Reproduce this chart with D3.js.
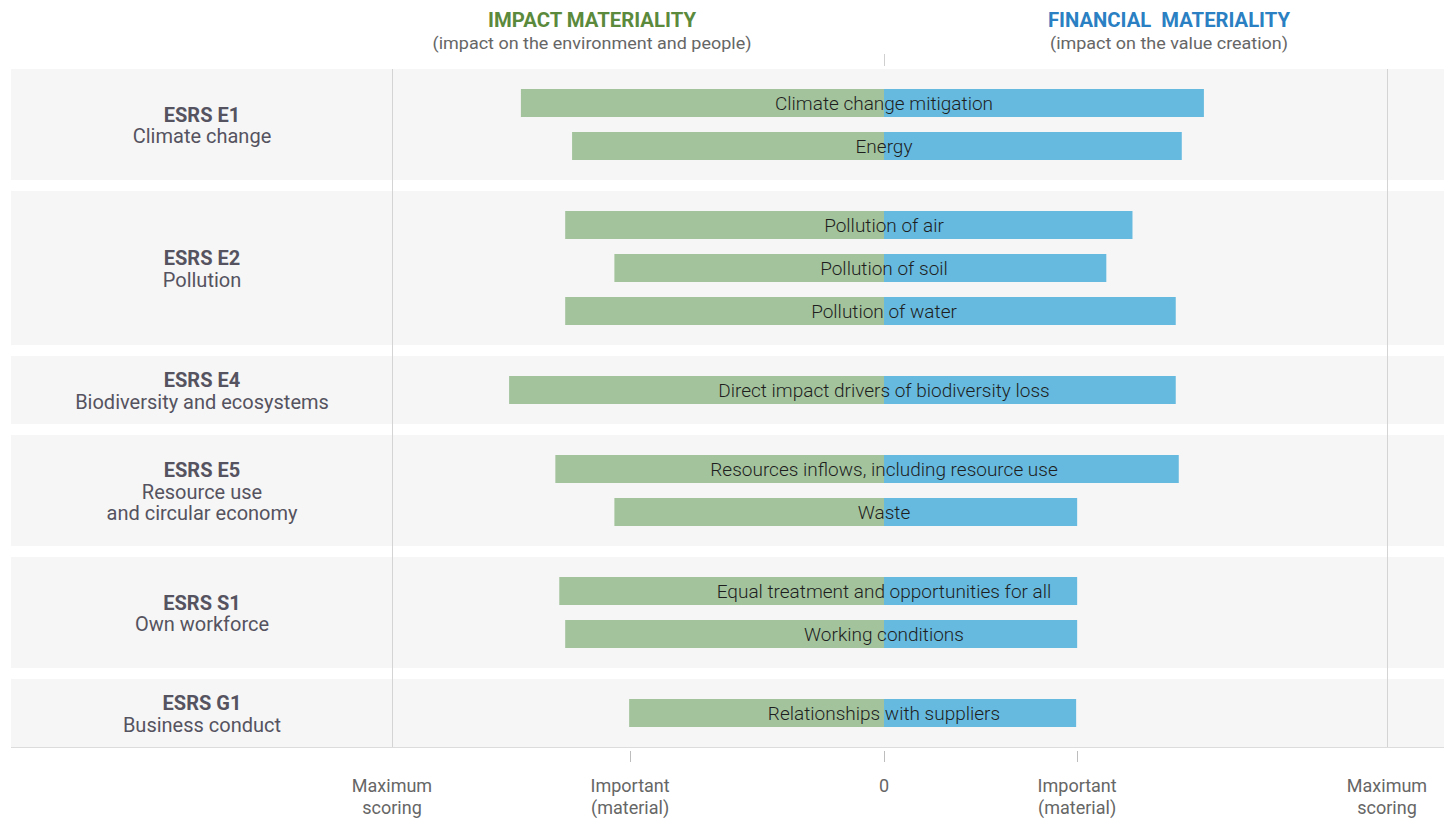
<!DOCTYPE html>
<html>
<head>
<meta charset="utf-8">
<script src="https://cdn.jsdelivr.net/npm/d3@7"></script>
<style>
  html, body { margin: 0; padding: 0; background: #ffffff; }
  svg { display: block; font-family: Roboto, "Noto Sans", sans-serif; }
</style>
</head>
<body>
<svg id="chart" width="1444" height="818"></svg>
<script>
// ---------------- DATA ----------------
const groupCodes = ["ESRS E1", "ESRS E2", "ESRS E4", "ESRS E5", "ESRS S1", "ESRS G1"];
const groupNames = [
  ["Climate change"],
  ["Pollution"],
  ["Biodiversity and ecosystems"],
  ["Resource use", "and circular economy"],
  ["Own workforce"],
  ["Business conduct"]
];
const topics = [
  "Climate change mitigation",
  "Energy",
  "Pollution of air",
  "Pollution of soil",
  "Pollution of water",
  "Direct impact drivers of biodiversity loss",
  "Resources inflows, including resource use",
  "Waste",
  "Equal treatment and opportunities for all",
  "Working conditions",
  "Relationships with suppliers"
];
const topicGroup = [0, 0, 1, 1, 1, 2, 3, 3, 4, 4, 5];
// scores on a 0..5 scale (5 = maximum scoring)
const impactScores    = [3.69, 3.17, 3.24, 2.74, 3.24, 3.81, 3.34, 2.74, 3.30, 3.24, 2.59];
const financialScores = [3.18, 2.96, 2.47, 2.21, 2.90, 2.90, 2.93, 1.92, 1.92, 1.92, 1.91];
const maxScore = 5;
const impactThreshold = 2.58;
const financialThreshold = 1.92;
const impactTitle = "IMPACT MATERIALITY";
const impactSubtitle = "(impact on the environment and people)";
const financialTitle = "FINANCIAL  MATERIALITY";
const financialSubtitle = "(impact on the value creation)";
const tickLabelsMax = ["Maximum", "scoring"];
const tickLabelsImportant = ["Important", "(material)"];
const tickLabelZero = "0";

// ---------------- LAYOUT ----------------
const centerX = 884;
const panelLeft = 11, panelRight = 1444;
const chartTop = 69;
const rowStep = 43, barH = 28, panelPad = 20, panelGap = 11;

const svg = d3.select("#chart");

const xImpact = d3.scaleLinear().domain([0, maxScore]).range([centerX, 392]);
const xFin = d3.scaleLinear().domain([0, maxScore]).range([centerX, 1387]);

const GREEN = "#a3c39d", BLUE = "#66badf";
const LABEL_COLOR = "#55535f";
const GRID = "#d4d4d4";

// group panels
const groups = groupCodes.map((code, gi) => {
  const rows = topics.map((t, i) => i).filter(i => topicGroup[i] === gi);
  return { code, name: groupNames[gi], rows };
});
let cursor = chartTop;
groups.forEach(g => {
  g.top = cursor;
  const inner = g.rows.length * rowStep;
  g.height = inner - (rowStep - barH) + 2 * panelPad;
  g.bottom = g.top + g.height;
  cursor = g.bottom + panelGap;
  const start = g.top + panelPad - (rowStep - barH) / 2;
  g.y = d3.scaleBand()
    .domain(g.rows)
    .range([start, start + inner])
    .paddingInner((rowStep - barH) / rowStep)
    .paddingOuter((rowStep - barH) / rowStep / 2);
});
const chartBottom = groups[groups.length - 1].bottom;

// panel backgrounds
svg.append("g").selectAll("rect").data(groups).join("rect")
  .attr("x", panelLeft).attr("y", d => d.top)
  .attr("width", panelRight - panelLeft).attr("height", d => d.height)
  .attr("fill", "#f6f6f6");

// bottom baseline
svg.append("line")
  .attr("x1", panelLeft).attr("x2", panelRight)
  .attr("y1", chartBottom + 0.5).attr("y2", chartBottom + 0.5)
  .attr("stroke", "#dcdcdc").attr("stroke-width", 1);

// maximum scoring vertical lines
svg.append("g").selectAll("line").data([xImpact(maxScore), xFin(maxScore)]).join("line")
  .attr("x1", d => Math.round(d) + 0.5).attr("x2", d => Math.round(d) + 0.5)
  .attr("y1", chartTop).attr("y2", chartBottom)
  .attr("stroke", GRID).attr("stroke-width", 1);

// top center tick
svg.append("line")
  .attr("x1", centerX + 0.5).attr("x2", centerX + 0.5)
  .attr("y1", 54).attr("y2", 66)
  .attr("stroke", "#cfcfcf").attr("stroke-width", 1);

// group labels
const gl = svg.append("g").selectAll("text").data(groups).join("text")
  .attr("text-anchor", "middle")
  .attr("fill", LABEL_COLOR);
gl.each(function(g) {
  const lines = [{ t: g.code, bold: true }].concat(g.name.map(n => ({ t: n, bold: false })));
  const lh = 21.5;
  const cy = (g.top + g.bottom) / 2;
  const start = cy - (lines.length - 1) * lh / 2 + 1;
  d3.select(this).selectAll("tspan").data(lines).join("tspan")
    .attr("x", 202)
    .attr("y", (d, i) => start + i * lh)
    .attr("dy", "0.35em")
    .attr("font-size", 20)
    .attr("font-weight", d => d.bold ? 700 : 400)
    .text(d => d.t);
});

// bars
const barData = topics.map((t, i) => {
  const g = groups[topicGroup[i]];
  return { topic: t, i, y: g.y(i), impact: impactScores[i], fin: financialScores[i] };
});
const bars = svg.append("g");
bars.selectAll("rect.imp").data(barData).join("rect")
  .attr("class", "imp")
  .attr("x", d => xImpact(d.impact))
  .attr("y", d => d.y)
  .attr("width", d => xImpact(0) - xImpact(d.impact))
  .attr("height", barH)
  .attr("fill", GREEN);
bars.selectAll("rect.fin").data(barData).join("rect")
  .attr("class", "fin")
  .attr("x", xFin(0))
  .attr("y", d => d.y)
  .attr("width", d => xFin(d.fin) - xFin(0))
  .attr("height", barH)
  .attr("fill", BLUE);
bars.selectAll("text").data(barData).join("text")
  .attr("x", centerX)
  .attr("y", d => d.y + barH / 2)
  .attr("dy", "0.35em")
  .attr("text-anchor", "middle")
  .attr("font-size", 19)
  .attr("font-weight", 300)
  .attr("fill", "#1e1e1e")
  .text(d => d.topic);

// header titles
const header = svg.append("g");
const heads = [
  { x: 592, title: impactTitle, sub: impactSubtitle, color: "#5b8a3d", tw: 208, sw: 319 },
  { x: 1169, title: financialTitle, sub: financialSubtitle, color: "#2a80c2", tw: 242, sw: 238 }
];
heads.forEach(h => {
  header.append("text")
    .attr("x", h.x).attr("y", 27)
    .attr("text-anchor", "middle")
    .attr("font-size", 20.5).attr("font-weight", 700)
    .attr("fill", h.color)
    .style("white-space", "pre")
    .attr("textLength", h.tw).attr("lengthAdjust", "spacingAndGlyphs")
    .text(h.title);
  header.append("text")
    .attr("x", h.x).attr("y", 49)
    .attr("text-anchor", "middle")
    .attr("font-size", 17).attr("font-weight", 400)
    .attr("fill", "#666")
    .attr("textLength", h.sw).attr("lengthAdjust", "spacingAndGlyphs")
    .text(h.sub);
});

// bottom axis ticks + labels
const ticks = [
  { x: xImpact(maxScore), lines: tickLabelsMax, tick: false },
  { x: xImpact(impactThreshold), lines: tickLabelsImportant, tick: true },
  { x: xImpact(0), lines: [tickLabelZero], tick: true },
  { x: xFin(financialThreshold), lines: tickLabelsImportant, tick: true },
  { x: xFin(maxScore), lines: tickLabelsMax, tick: false }
];
const axis = svg.append("g");
axis.selectAll("line").data(ticks.filter(d => d.tick)).join("line")
  .attr("x1", d => Math.round(d.x) + 0.5).attr("x2", d => Math.round(d.x) + 0.5)
  .attr("y1", chartBottom + 4).attr("y2", chartBottom + 15)
  .attr("stroke", "#bdbdbd").attr("stroke-width", 1);
const tl = axis.selectAll("text").data(ticks).join("text")
  .attr("text-anchor", "middle")
  .attr("fill", "#666")
  .attr("font-size", 18);
tl.each(function(d) {
  d3.select(this).selectAll("tspan").data(d.lines).join("tspan")
    .attr("x", d.x)
    .attr("y", (l, i) => 792 + i * 22)
    .text(l => l);
});
</script>
</body>
</html>
